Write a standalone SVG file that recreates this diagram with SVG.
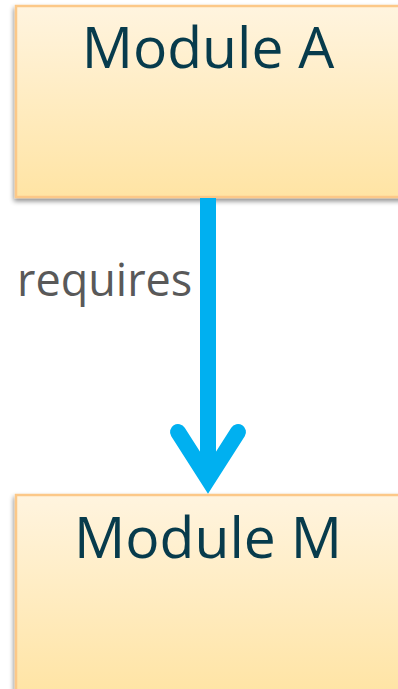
<svg xmlns="http://www.w3.org/2000/svg" width="398" height="689" viewBox="0 0 398 689">
<defs>
<linearGradient id="fill" x1="0" y1="0" x2="0" y2="1">
<stop offset="0" stop-color="#FFF4DF"/>
<stop offset="1" stop-color="#FFE4A4"/>
</linearGradient>
<filter id="sh" x="-10%" y="-10%" width="120%" height="125%">
<feGaussianBlur in="SourceAlpha" stdDeviation="2.5"/>
<feOffset dx="-1" dy="3" result="b"/>
<feComponentTransfer><feFuncA type="linear" slope="0.45"/></feComponentTransfer>
<feMerge><feMergeNode/><feMergeNode in="SourceGraphic"/></feMerge>
</filter>
</defs>
<style>
.box{fill:url(#fill);stroke:#FCC888;stroke-width:2.5;filter:url(#sh)}
.title{font-family:"Open Sans",sans-serif;font-size:57px;fill:#073B4C;text-anchor:middle}
.lbl{font-family:"Open Sans",sans-serif;font-size:45px;fill:#595959}
.conn{fill:none;stroke:#00B0F0;stroke-width:16}
</style>
<rect width="398" height="689" fill="#FFFFFF"/>
<g id="moduleA">
<rect class="box" x="16" y="6" width="400" height="191"/>
<text class="title" x="208" y="68">Module A</text>
</g>
<g id="moduleM">
<rect class="box" x="16" y="495" width="400" height="200"/>
<text class="title" x="208" y="558">Module M</text>
</g>
<g id="connectors">
<line class="conn" x1="208" y1="198" x2="208" y2="476"/>
<polyline class="conn" points="178,432 208,479 238,432" stroke-linecap="round" stroke-linejoin="miter" stroke-miterlimit="10"/>
<text class="lbl" x="17" y="296">requires</text>
</g>
</svg>
